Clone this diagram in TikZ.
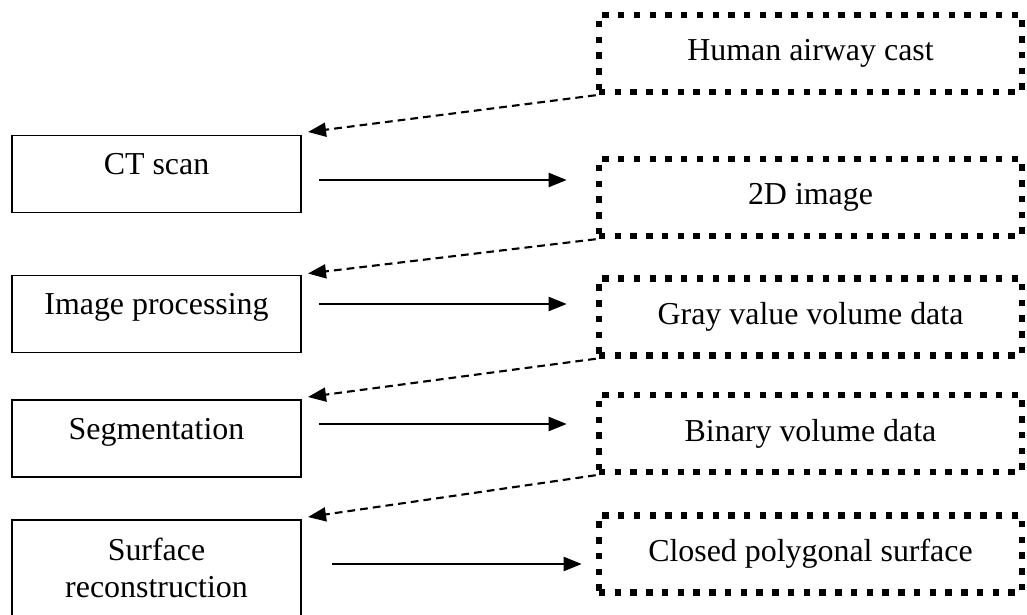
\documentclass[tikz,border=0pt]{standalone}
\usepackage{fontspec}
\setmainfont{Liberation Serif}
\usetikzlibrary{arrows.meta}
\tikzstyle{every node}=[font=\fontsize{22.7}{26.3}\selectfont, inner sep=0pt]
\tikzstyle{process}=[draw, line width=1.4pt, minimum width=7.225cm, minimum height=1.925cm, align=center]
\tikzstyle{liftedtext}=[text height=0.53cm, text depth=0.5cm]
\tikzstyle{product}=[draw, line width=4.6pt, dash pattern=on 4.6pt off 6.6pt, minimum width=10.575cm, minimum height=1.925cm]
\tikzstyle{flow}=[line width=1.5pt, -{Triangle[length=0.45cm, width=0.35cm]}]
\tikzstyle{feed}=[flow, dash pattern=on 5.5pt off 3.6pt]

\begin{document}
\begin{tikzpicture}[x=0.025cm, y=-0.025cm]
\useasboundingbox (0,0) rectangle (1027,615);
% Steps
    \node[process, liftedtext] (ct) at (156.5,174) {CT scan};
    \node[process, liftedtext] (imgproc) at (156.5,314) {Image processing};
    \node[process, liftedtext] (seg) at (156.5,438.5) {Segmentation};
    \node[process, minimum height=2.4cm] (surf) at (156.5,568) {Surface\\reconstruction};
% Data
    \node[product] (cast) at (810.5,53.5) {Human airway cast};
    \node[product] (img2d) at (810.5,197.5) {2D image};
    \node[product] (gray) at (810.5,317) {Gray value volume data};
    \node[product] (binary) at (810.5,433.5) {Binary volume data};
    \node[product] (polysurf) at (810.5,554) {Closed polygonal surface};
% Outputs
    \draw[flow] ([shift={(17,6)}]ct.east) -- ([shift={(-29,6)}]ct.east -| img2d.west);
    \draw[flow] ([shift={(17,-10)}]imgproc.east) -- ([shift={(-29,-10)}]imgproc.east -| gray.west);
    \draw[flow] ([shift={(17,-14.5)}]seg.east) -- ([shift={(-29,-14.5)}]seg.east -| binary.west);
    \draw[flow] ([shift={(30,-4)}]surf.east) -- ([shift={(-14,-4)}]surf.east -| polysurf.west);
% Inputs
    \draw[feed] (cast.south west) -- ([shift={(6,-2.5)}]ct.north east);
    \draw[feed] (img2d.south west) -- ([shift={(6,-1)}]imgproc.north east);
    \draw[feed] (gray.south west) -- ([shift={(6,-2)}]seg.north east);
    \draw[feed] (binary.south west) -- ([shift={(6,-2)}]surf.north east);
\end{tikzpicture}
\end{document}
